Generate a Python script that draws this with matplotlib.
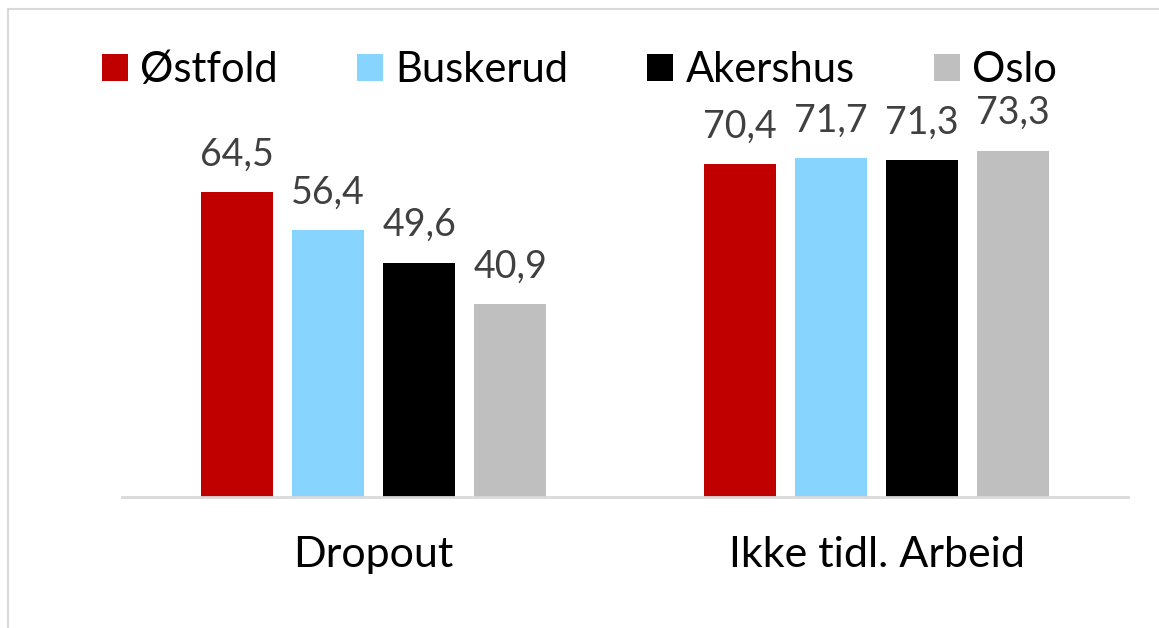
import numpy as np
import matplotlib.pyplot as plt
from matplotlib.lines import Line2D

categories = ['Dropout', 'Ikke tidl. Arbeid']
series = ['Østfold', 'Buskerud', 'Akershus', 'Oslo']
values = [[64.5, 70.4],
          [56.4, 71.7],
          [49.6, 71.3],
          [40.9, 73.3]]
colors = ['#C00000', '#87D4FF', '#000000', '#BFBFBF']

plt.rcParams['font.family'] = ['Lato', 'DejaVu Sans']

fig = plt.figure(figsize=(11.59, 6.28), dpi=100)
ax = fig.add_axes([0.1053, 0.2086, 0.868, 0.7277])

x = np.arange(len(categories))
width = 0.143
step = 0.181
for i, (name, vals) in enumerate(zip(series, values)):
    pos = x + (i - 1.5) * step
    bars = ax.bar(pos, vals, width, color=colors[i], label=name)
    for b, v in zip(bars, vals):
        ax.annotate(f'{v:.1f}'.replace('.', ','),
                    (b.get_x() + b.get_width() / 2, v),
                    xytext=(0, 14), textcoords='offset points',
                    ha='center', va='bottom', fontsize=27, color='#404040')

ax.set_xlim(-0.5, 1.5)
ax.set_ylim(0, 96.7)
ax.set_xticks(x)
ax.set_xticklabels(categories, fontsize=31)
ax.tick_params(axis='x', length=0, pad=28)
ax.set_yticks([])
for s in ['top', 'right', 'left']:
    ax.spines[s].set_visible(False)
ax.spines['bottom'].set_color('#D9D9D9')
ax.spines['bottom'].set_linewidth(2)

fig.legend(loc='center', bbox_to_anchor=(0.5, 0.888), ncol=4, frameon=False,
           fontsize=30, handlelength=0.62, handleheight=0.62,
           handletextpad=0.3, columnspacing=1.9)

# рамка слева и сверху
fig.add_artist(Line2D([8 / 1159, 8 / 1159], [0, 1 - 9 / 628],
                      transform=fig.transFigure, color='#D9D9D9', lw=1.5))
fig.add_artist(Line2D([8 / 1159, 1], [1 - 9 / 628, 1 - 9 / 628],
                      transform=fig.transFigure, color='#D9D9D9', lw=1.5))

plt.savefig('out.png')
